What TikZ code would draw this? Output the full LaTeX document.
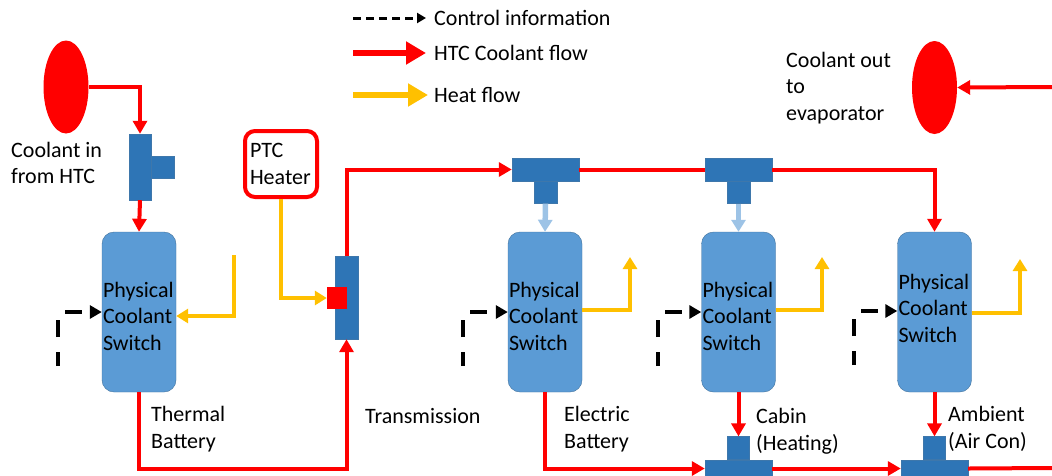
\documentclass[tikz,border=0pt]{standalone}
\usepackage{fontspec}
\setmainfont{Carlito}
\usetikzlibrary{arrows.meta,positioning,shapes.geometric}
\definecolor{coolred}{HTML}{FF0000}
\definecolor{tblue}{HTML}{2E75B6}
\definecolor{boxblue}{HTML}{5B9BD5}
\definecolor{boxedge}{HTML}{41719C}
\definecolor{heat}{HTML}{FFC000}
\definecolor{paleblue}{HTML}{9DC3E6}

\begin{document}
\begin{tikzpicture}[x=1pt,y=-1pt,font=\fontsize{22}{26.5}\selectfont,
  coolswitch/.style={draw=boxedge,fill=boxblue,rounded corners=12pt,minimum width=74pt,minimum height=160pt,text width=72pt,inner xsep=1pt,align=left},
  tpart/.style={fill=tblue,draw=tblue!80!gray,inner sep=0pt},
  port/.style={ellipse,fill=coolred,inner sep=0pt,minimum width=45pt,minimum height=93pt},
  lbl/.style={align=left,inner sep=0pt,anchor=west},
  flow/.style={coolred,line width=4pt,-{Triangle[length=13pt,width=14pt]}},
  line/.style={coolred,line width=4pt},
  heatflow/.style={heat,line width=4pt,-{Triangle[length=12pt,width=14pt]}},
  ctrl/.style={black,line width=4pt,dash pattern=on 17pt off 15pt,dash phase=3pt,-{Triangle[length=12pt,width=13pt]}},
  bypass/.style={paleblue,line width=5.5pt,-{Triangle[length=12pt,width=14pt]}}]
  \useasboundingbox (0,0) rectangle (1052,475);
  % legend
  \node[lbl] (lgctrl) at (434,18) {Control information};
  \node[lbl] (lgflow) at (434,53) {HTC Coolant flow};
  \node[lbl] (lgheat) at (434,95) {Heat flow};
  \coordinate (lga) at (353,18); \coordinate (lgb) at (353,53); \coordinate (lgc) at (353,95);
  \draw[black,line width=3pt,dash pattern=on 8pt off 5pt,-{Triangle[length=9pt,width=10pt]}] (lga) -- ([xshift=-8pt]lgctrl.west);
  \draw[coolred,line width=6pt,-{Triangle[length=20pt,width=22pt]}] (lgb) -- ([xshift=-8pt]lgflow.west);
  \draw[heat,line width=6pt,-{Triangle[length=20pt,width=22pt]}] (lgc) -- ([xshift=-6pt]lgheat.west);
  % inlet, outlet, heater
  \node[port] (htcin) at (66,87) {};
  \node[lbl] (inlbl) at (11,163) {Coolant in\\from HTC};
  \node[port] (evap) at (934.5,87.5) {};
  \node[lbl] (outlbl) at (786,88) {Coolant out\\to\\evaporator};
  \node[draw=coolred,line width=4pt,rounded corners=10pt,minimum width=72pt,minimum height=66pt,text width=62pt,align=left] (ptc) at (281,164) {PTC\\Heater};
  % T pieces
  \node[tpart,minimum width=22pt,minimum height=66pt] (t0) at (140,167) {};
  \node[tpart,minimum width=23pt,minimum height=22pt,anchor=west] (t0arm) at (t0.east) {};
  \node[tpart,minimum width=67pt,minimum height=23pt] (t1) at (545.5,169.5) {};
  \node[tpart,minimum width=23pt,minimum height=22pt,below=0pt of t1] (t1s) {};
  \node[tpart,minimum width=67pt,minimum height=23pt] (t2) at (738.5,169.5) {};
  \node[tpart,minimum width=23pt,minimum height=22pt,below=0pt of t2] (t2s) {};
  \node[tpart,minimum width=67pt,minimum height=23pt] (t3) at (738.5,471.5) {};
  \node[tpart,minimum width=22pt,minimum height=23pt,above=0pt of t3] (t3s) {};
  \node[tpart,minimum width=67pt,minimum height=23pt] (t4) at (934.5,471.5) {};
  \node[tpart,minimum width=22pt,minimum height=23pt,above=0pt of t4] (t4s) {};
  \node[tpart,minimum width=23pt,minimum height=83pt] (trans) at (346.5,297.5) {};
  \node[fill=coolred,inner sep=0pt,minimum width=20pt,minimum height=22pt] (heatx) at (337,298) {};
  % switches
  \node[coolswitch] (sw1) at (139,312) {\rule{0pt}{23.5pt}Physical\\Coolant\\Switch};
  \node[coolswitch] (sw2) at (545,312) {\rule{0pt}{23.5pt}Physical\\Coolant\\Switch};
  \node[coolswitch] (sw3) at (738.5,312) {\rule{0pt}{23.5pt}Physical\\Coolant\\Switch};
  \node[coolswitch] (sw4) at (934.5,312) {Physical\\Coolant\\Switch\rule[-8pt]{0pt}{8pt}};
  % labels
  \node[lbl] (thermlbl) at (151,429) {Thermal\\Battery};
  \node[lbl] (translbl) at (365,416) {Transmission};
  \node[lbl] (eleclbl) at (564,429) {Electric\\Battery};
  \node[lbl] (cablbl) at (756,431) {Cabin\\(Heating)};
  \node[lbl] (amblbl) at (948,429) {Ambient\\(Air Con)};
  % coolant flow
  \draw[flow] (htcin.east) -| (t0.north);
  \draw[flow] (t0.south) -- (sw1.north);
  \draw[flow] (sw1.south) -- ++(0,77) -| (trans.south);
  \draw[flow] (trans.north) |- (t1.west);
  \draw[line] (t1.east) -- (t2.west);
  \draw[flow] (t2.east) -| (sw4.north);
  \draw[bypass] (t1s.south) -- (sw2.north);
  \draw[bypass] (t2s.south) -- (sw3.north);
  \draw[flow] (sw2.south) |- ([yshift=3pt]t3.west);
  \draw[flow] (sw3.south) -- (t3s.north);
  \draw[flow] ([yshift=3pt]t3.east) -- ([yshift=3pt]t4.west);
  \draw[flow] (sw4.south) -- (t4s.north);
  \coordinate (outr) at (1052,468);
  \draw[line] ([yshift=3pt]t4.east) -- (outr);
  \coordinate (retin) at (1052,87);
  \draw[flow] (retin) -- (evap.east);
  % heat
  \coordinate (h1) at (234,255);
  \draw[heatflow] (h1) |- ([yshift=-4pt]sw1.east);
  \draw[heatflow] (ptc.south) |- (heatx.west);
  \coordinate (h2) at (630,257); \coordinate (h3) at (822,257); \coordinate (h4) at (1020,259);
  \draw[heatflow] ([yshift=2pt]sw2.east) -| (h2);
  \draw[heatflow] ([yshift=2pt]sw3.east) -| (h3);
  \draw[heatflow] ([yshift=-1pt]sw4.east) -| (h4);
  % control
  \coordinate (c1) at (58,366); \coordinate (c2) at (463,366); \coordinate (c3) at (658,366); \coordinate (c4) at (854,365);
  \draw[ctrl] (c1) |- (sw1.west);
  \draw[ctrl] (c2) |- (sw2.west);
  \draw[ctrl] (c3) |- (sw3.west);
  \draw[ctrl] (c4) |- ([yshift=1pt]sw4.west);
\end{tikzpicture}
\end{document}
